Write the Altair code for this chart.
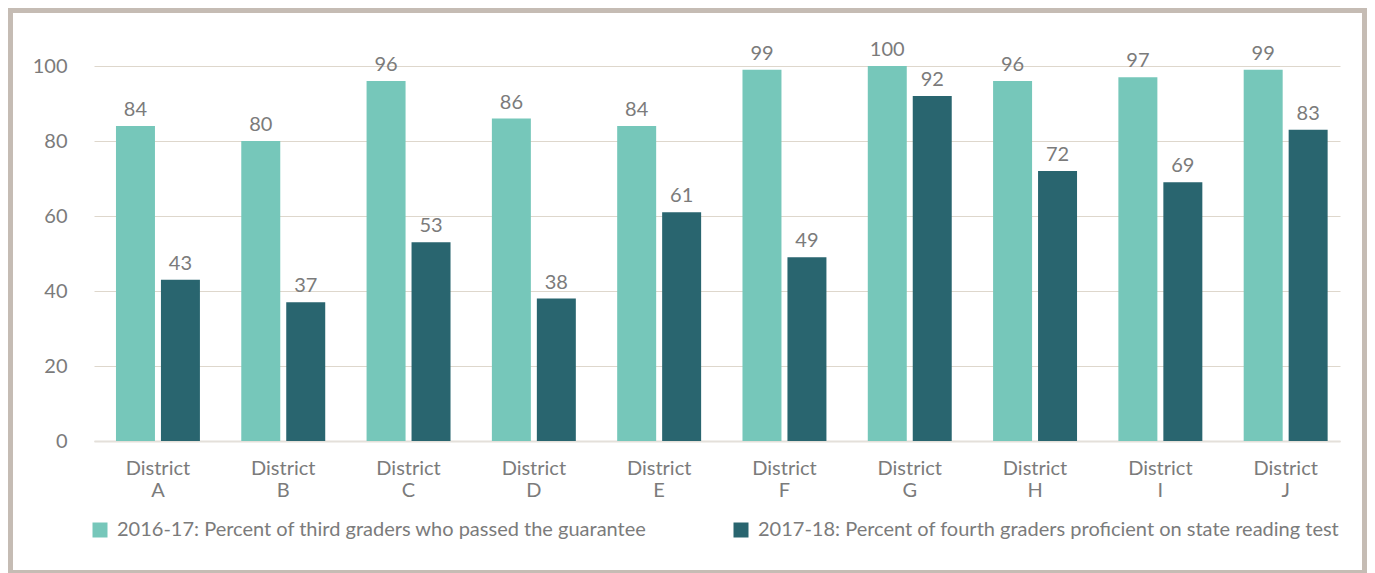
import altair as alt
import pandas as pd

districts = ["District A", "District B", "District C", "District D", "District E",
             "District F", "District G", "District H", "District I", "District J"]
series_names = [
    "2016-17: Percent of third graders who passed the guarantee",
    "2017-18: Percent of fourth graders proficient on state reading test",
]
passed_2016_17 = [84, 80, 96, 86, 84, 99, 100, 96, 97, 99]
proficient_2017_18 = [43, 37, 53, 38, 61, 49, 92, 72, 69, 83]
colors = ["#76C7BA", "#29656F"]
y_ticks = [0, 20, 40, 60, 80, 100]

rows = []
for d, a, b in zip(districts, passed_2016_17, proficient_2017_18):
    rows.append({"district": d, "series": series_names[0], "value": a})
    rows.append({"district": d, "series": series_names[1], "value": b})
df = pd.DataFrame(rows)

FONT = "Lato"
TEXT = "#7b7b7b"
FS = 20

x_scale = alt.Scale(paddingInner=0.33, paddingOuter=0.137, align=0.64, round=False)
x_enc = alt.X(
    "district:N", sort=districts, scale=x_scale,
    axis=alt.Axis(title=None, labelExpr="split(datum.label, ' ')", labelAngle=0,
                  labelFontSize=FS, labelColor=TEXT, labelFont=FONT, labelLineHeight=22,
                  labelPadding=17, ticks=False, domain=True, domainColor="#E4E0DA",
                  domainWidth=2, grid=False),
)
xoff = alt.XOffset("series:N", sort=series_names,
                   scale=alt.Scale(paddingInner=0.133, paddingOuter=0))
y_enc = alt.Y(
    "value:Q", scale=alt.Scale(domain=[0, 100], nice=False),
    axis=alt.Axis(title=None, values=y_ticks, ticks=False, domain=False, grid=True,
                  gridColor="#DED7CC", gridWidth=1, labelFontSize=FS, labelColor=TEXT,
                  labelFont=FONT, labelPadding=27),
)
color_enc = alt.Color(
    "series:N", sort=series_names,
    scale=alt.Scale(domain=series_names, range=colors),
    legend=alt.Legend(orient="none", legendX=-4, legendY=454, direction="horizontal",
                      title=None, symbolType="square", symbolSize=225, symbolStrokeWidth=0,
                      labelFontSize=FS, labelColor=TEXT, labelFont=FONT, labelOffset=7,
                      columnPadding=84, labelLimit=800),
)

base = alt.Chart(df)
bars = base.mark_bar().encode(x=x_enc, xOffset=xoff, y=y_enc, color=color_enc)
labels = base.mark_text(dy=-10, baseline="alphabetic", fontSize=FS, color=TEXT, font=FONT).encode(
    x=alt.X("district:N", sort=districts, scale=x_scale),
    xOffset=alt.XOffset("series:N", sort=series_names),
    y="value:Q", text=alt.Text("value:Q", format="d"))

frame = alt.Chart(pd.DataFrame({"frame": [0]})).mark_rect(
    fill="transparent", stroke="#C5BCB4", strokeWidth=5
).encode(x=alt.value(-83.5), x2=alt.value(1270.5), y=alt.value(-55.5), y2=alt.value(506.5))

chart = alt.layer(bars, labels, frame).properties(
    width=1246, height=375,
    autosize=alt.AutoSizeParams(type="none"),
    padding={"left": 86, "top": 58, "right": 27, "bottom": 132},
).configure_view(stroke="transparent")

chart.save("out.html", embed_options={"renderer": "svg", "actions": False})
